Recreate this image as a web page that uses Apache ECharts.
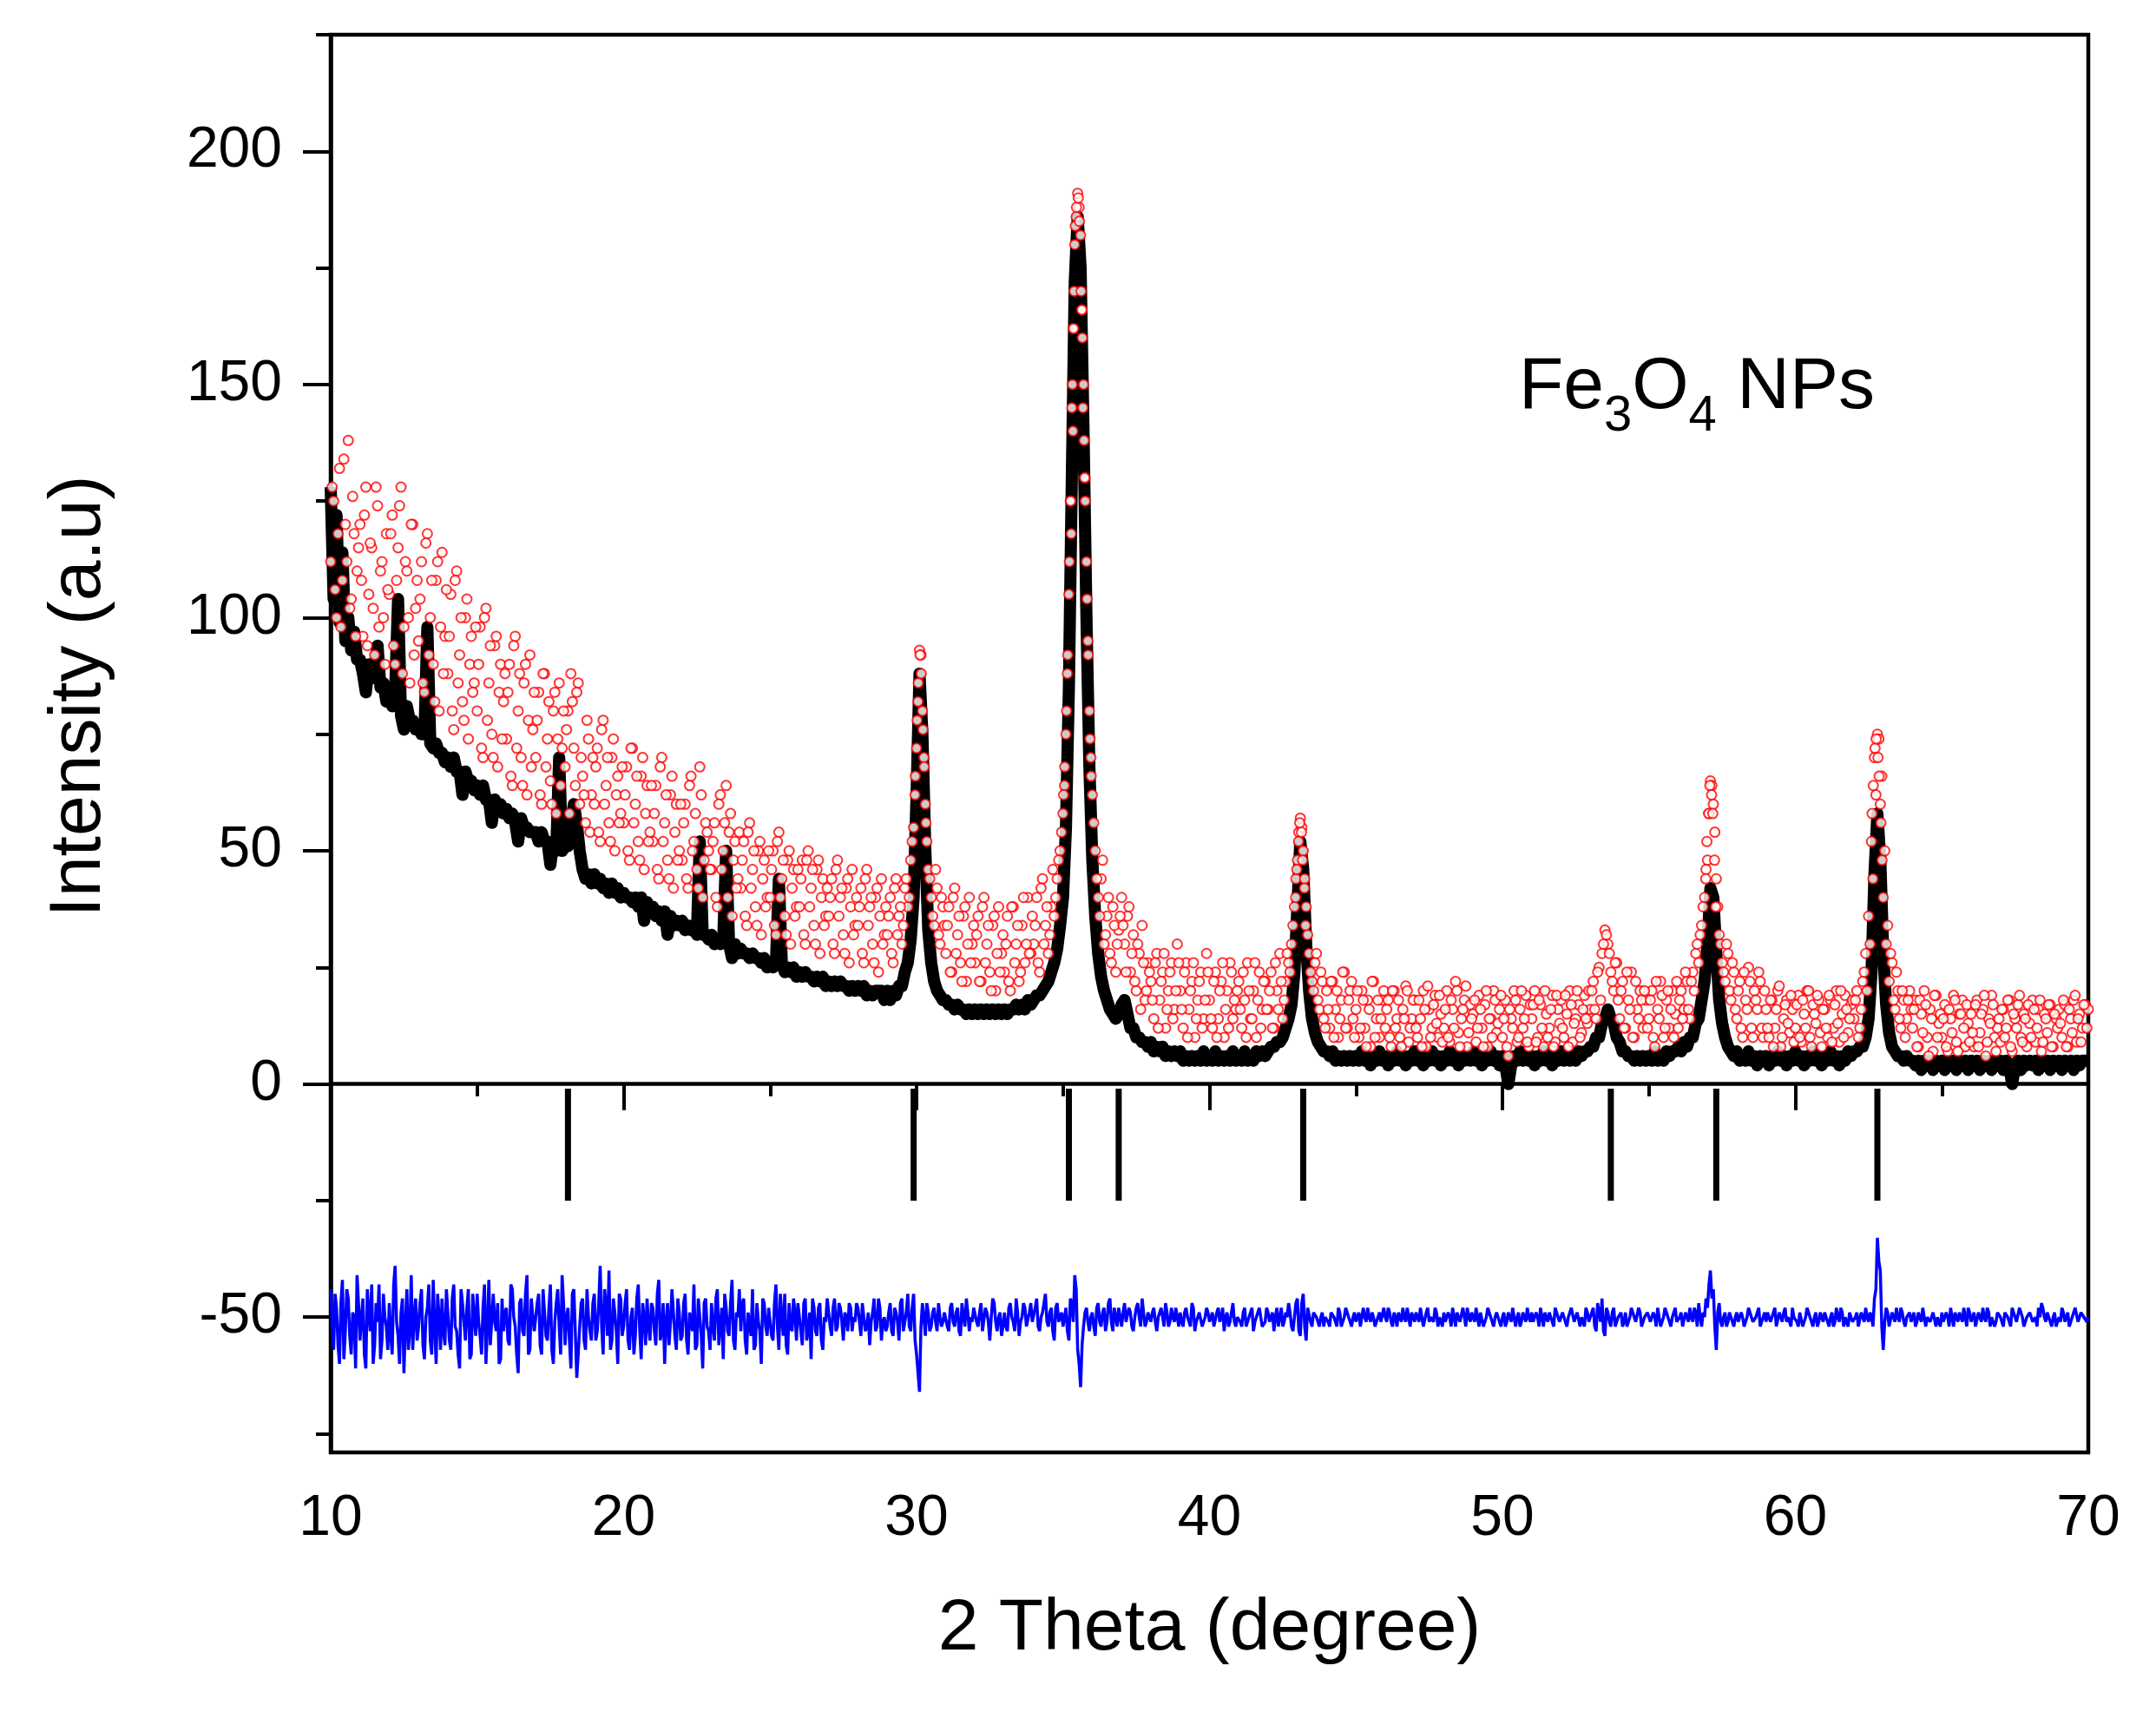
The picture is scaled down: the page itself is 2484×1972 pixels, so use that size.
<!DOCTYPE html>
<html>
<head>
<meta charset="utf-8">
<script src="https://cdn.jsdelivr.net/npm/echarts@6/dist/echarts.min.js"></script>
<style>
  html, body { margin: 0; padding: 0; background: #fff; }
  #chart { width: 2484px; height: 1972px; }
</style>
</head>
<body>
<div id="chart"></div>
<script>
// sampling grid of the pattern (2 theta, degree)
var xStart = 10;
var xStep = 0.1;

// black profile, one row per degree (x.0 ... x.9)
var calc = [
  128,104,122,99,114,95,100,93,97,91,   // 10
  91,88,84,90,87,88,94,85,86,82,        // 11
  83,81,84,104,79,76,81,78,78,76,       // 12
  77,75,75,98,73,72,73,71,71,69,        // 13
  70,68,70,67,67,62,67,65,65,63,        // 14
  64,62,64,61,61,56,61,59,60,58,        // 15
  59,57,58,56,52,57,55,55,54,54,        // 16
  54,52,54,52,52,47,52,50,70,50,        // 17
  51,51,55,60,56,50,46,44,45,43,        // 18
  45,43,44,42,43,41,43,41,42,40,        // 19
  41,40,40,39,40,38,40,35,39,37,        // 20
  38,36,37,35,37,32,36,34,35,34,        // 21
  35,33,34,33,34,32,52,32,32,31,        // 22
  32,30,31,30,31,50,30,27,30,28,        // 23
  29,28,28,27,28,27,27,26,27,25,        // 24
  26,25,26,44,26,24,25,24,25,23,        // 25
  24,23,24,23,23,22,23,22,23,21,        // 26
  22,21,22,21,22,21,21,20,21,20,        // 27
  21,20,21,19,20,19,20,20,20,18,        // 28
  20,18,20,19,21,21,24,26,31,40,        // 29
  62,88,75,50,33,26,22,20,19,18,        // 30
  18,17,17,16,17,16,16,15,16,15,        // 31
  16,15,16,15,16,15,16,15,16,15,        // 32
  16,15,16,16,17,16,17,16,18,17,        // 33
  18,19,19,20,21,22,24,26,29,34,        // 34
  40,55,85,130,172,186,175,140,100,68,  // 35
  48,36,28,23,20,18,16,15,14,15,        // 36
  17,18,15,12,12,10,10,9,9,8,           // 37
  9,7,8,7,8,6,7,6,7,6,                  // 38
  7,5,6,5,6,5,6,5,7,5,                  // 39
  6,5,7,5,6,5,6,5,7,5,                  // 40
  6,5,7,5,6,5,7,6,7,6,                  // 41
  7,8,8,9,9,10,12,14,17,24,             // 42
  38,52,46,30,20,14,11,9,8,7,           // 43
  7,6,7,5,6,5,6,5,6,5,                  // 44
  6,5,7,5,6,4,6,5,7,5,                  // 45
  6,4,6,5,7,5,6,4,6,5,                  // 46
  7,5,6,4,6,5,7,5,6,4,                  // 47
  6,5,7,5,6,4,6,5,6,5,                  // 48
  7,5,6,4,6,5,7,5,6,4,                  // 49
  6,4,0,4,6,5,7,5,6,5,                  // 50
  6,4,6,5,7,5,6,4,6,5,                  // 51
  7,5,6,5,6,5,7,6,7,7,                  // 52
  8,8,10,10,13,14,16,14,13,10,          // 53
  9,7,7,6,6,5,6,5,6,5,                  // 54
  6,5,7,5,6,5,7,6,7,7,                  // 55
  8,7,9,8,10,10,13,14,18,22,            // 56
  30,42,40,28,18,13,10,8,7,6,           // 57
  7,5,6,5,7,5,6,4,6,5,                  // 58
  6,4,6,5,7,5,6,4,6,5,                  // 59
  7,5,6,4,6,5,7,5,6,4,                  // 60
  6,5,7,5,6,4,6,5,7,6,                  // 61
  7,7,8,8,10,14,24,45,58,48,            // 62
  28,17,11,8,7,6,6,5,6,5,               // 63
  5,4,5,3,5,4,5,3,5,4,                  // 64
  5,3,5,4,5,3,5,4,5,3,                  // 65
  5,4,5,3,5,4,5,3,5,4,                  // 66
  5,3,5,4,0,4,5,3,5,4,                  // 67
  5,4,5,3,5,4,5,3,5,4,                  // 68
  5,3,5,4,5,3,5,4,5,5,                  // 69
  5                                     // 70
];

// red open circles at x.0 ... x.9
var obs = [
  112,125,100,132,108,120,138,104,118,110,  // 10
  120,96,128,105,115,92,124,110,100,118,    // 11
  105,122,90,115,128,98,110,86,120,102,     // 12
  95,112,84,118,100,90,108,80,114,96,       // 13
  88,105,76,110,92,82,100,74,96,86,         // 14
  80,98,70,102,86,75,94,68,90,82,           // 15
  74,90,64,96,80,70,86,62,92,76,            // 16
  70,84,60,88,74,65,80,58,86,72,            // 17
  68,80,88,72,84,60,66,56,74,62,            // 18
  60,72,52,78,64,56,70,50,66,58,            // 19
  56,68,48,72,60,52,66,46,64,54,            // 20
  52,64,44,70,56,48,62,42,60,50,            // 21
  48,60,42,66,52,46,68,40,56,50,            // 22
  46,56,38,62,50,64,54,36,52,44,            // 23
  42,52,34,56,46,38,50,32,48,40,            // 24
  40,50,32,54,44,36,48,30,46,38,            // 25
  38,48,30,50,42,34,46,28,44,36,            // 26
  36,44,28,48,40,32,42,26,46,34,            // 27
  34,42,26,46,38,30,40,24,44,32,            // 28
  32,40,26,44,36,30,42,38,48,55,            // 29
  72,93,80,60,46,40,34,42,30,38,            // 30
  28,38,24,42,32,26,36,22,40,30,            // 31
  26,36,22,40,30,24,34,20,38,28,            // 32
  24,36,20,38,30,22,34,26,40,28,            // 33
  30,40,24,44,34,28,38,36,44,50,            // 34
  58,75,105,145,180,191,182,150,112,80,     // 35
  62,50,40,44,30,36,28,38,24,33,            // 36
  40,30,36,24,32,20,28,34,18,26,            // 37
  22,14,28,18,24,12,20,26,16,30,            // 38
  20,12,26,16,22,10,18,24,14,28,            // 39
  18,12,24,14,22,10,20,26,14,16,            // 40
  22,12,18,26,14,20,10,24,16,22,            // 41
  16,24,12,20,28,14,22,26,30,38,            // 42
  48,57,50,38,28,22,26,18,24,14,            // 43
  20,12,22,16,10,18,24,12,20,14,            // 44
  16,10,20,12,18,8,22,14,10,18,             // 45
  12,18,8,20,14,10,16,21,9,14,              // 46
  18,10,14,20,8,16,12,19,10,15,             // 47
  12,20,9,16,22,11,14,18,8,17,              // 48
  15,9,19,12,17,8,14,20,11,16,              // 49
  10,18,6,14,20,9,16,12,19,8,               // 50
  14,20,10,17,8,15,12,19,9,16,              // 51
  18,10,15,20,9,14,17,11,19,13,             // 52
  16,22,14,25,28,33,30,24,20,26,            // 53
  14,22,12,18,24,10,16,20,12,18,            // 54
  14,20,8,16,22,10,18,12,20,15,             // 55
  12,20,16,22,14,24,28,26,34,40,            // 56
  48,65,60,44,32,26,22,28,18,24,            // 57
  14,22,10,18,25,12,20,16,22,10,            // 58
  16,10,18,12,20,8,14,18,11,16,             // 59
  12,19,9,15,20,10,17,13,18,8,              // 60
  16,10,18,12,20,9,15,19,11,17,             // 61
  14,20,12,22,28,36,52,70,75,60,            // 62
  40,30,22,26,16,20,12,18,14,20,            // 63
  12,18,8,15,20,10,16,7,19,13,              // 64
  10,17,7,14,19,9,15,18,8,13,               // 65
  15,8,18,11,16,6,14,19,10,12,              // 66
  9,16,12,18,7,14,17,10,15,8,               // 67
  13,18,9,16,7,15,11,17,8,14,               // 68
  16,10,17,8,14,18,9,15,12,17,              // 69
  16                                        // 70
];

// red open circles in between, at x.05 ... x.95
var obsMid = [
  128,106,118,98,134,112,102,126,96,115,    // 10
  108,122,94,116,102,128,98,112,90,106,     // 11
  118,94,108,124,88,112,100,120,92,108,     // 12
  104,86,116,92,108,82,112,98,88,106,       // 13
  96,80,108,86,100,78,104,90,84,98,         // 14
  90,72,100,78,94,70,96,84,74,88,           // 15
  84,66,94,72,88,64,90,78,68,84,            // 16
  78,62,88,68,82,60,84,74,64,80,            // 17
  76,58,82,64,86,70,62,78,54,70,            // 18
  68,54,76,60,70,52,74,62,56,68,            // 19
  62,50,72,56,66,48,70,58,52,64,            // 20
  58,46,68,52,62,44,66,54,48,60,            // 21
  56,44,64,50,58,42,62,48,54,46,            // 22
  52,40,60,46,56,40,58,48,42,54,            // 23
  48,36,54,42,50,34,52,44,38,50,            // 24
  46,34,52,40,48,32,50,42,36,46,            // 25
  44,32,48,38,46,30,48,40,34,42,            // 26
  40,30,46,36,42,28,44,38,32,40,            // 27
  38,28,44,34,40,26,42,36,30,38,            // 28
  36,28,42,32,38,34,44,40,52,62,            // 29
  82,92,70,52,44,36,46,32,40,34,            // 30
  34,24,40,28,36,22,38,30,26,34,            // 31
  32,22,38,26,34,20,36,28,24,32,            // 32
  30,22,38,26,34,24,40,30,28,36,            // 33
  34,26,42,30,38,32,46,40,48,54,            // 34
  64,88,125,162,186,188,166,130,95,70,      // 35
  56,44,36,48,32,40,26,34,30,36,            // 36
  34,24,38,28,22,30,16,26,20,24,            // 37
  18,26,12,22,28,16,24,14,20,26,            // 38
  16,24,10,20,26,14,22,12,18,24,            // 39
  14,22,10,20,26,16,12,24,18,20,            // 40
  16,24,10,20,14,26,18,12,22,16,            // 41
  20,12,26,16,22,18,28,24,34,44,            // 42
  54,55,44,32,24,20,28,16,22,12,            // 43
  16,22,10,20,14,24,12,18,22,10,            // 44
  20,12,18,8,16,22,10,18,14,20,             // 45
  16,10,20,12,18,8,14,20,12,18,             // 46
  12,18,8,16,21,10,17,13,19,9,              // 47
  16,10,18,12,20,8,16,21,11,14,             // 48
  18,12,16,8,20,14,10,18,13,19,             // 49
  14,8,16,12,18,10,20,14,9,17,              // 50
  17,9,18,12,20,10,16,8,19,13,              // 51
  12,19,8,17,13,20,10,16,14,20,             // 52
  20,16,24,18,30,32,28,22,26,18,            // 53
  20,12,24,16,10,22,14,18,20,12,            // 54
  18,10,22,14,19,12,20,16,10,22,            // 55
  18,14,24,16,22,20,30,32,38,46,            // 56
  58,64,54,38,30,24,30,20,26,16,            // 57
  20,12,24,16,22,10,18,24,12,20,            // 58
  12,18,8,16,21,10,17,13,19,9,              // 59
  17,10,18,12,20,8,15,19,11,16,             // 60
  12,19,9,17,13,20,10,16,14,18,             // 61
  18,10,16,24,20,30,44,62,74,66,            // 62
  50,34,28,18,24,14,20,10,18,16,            // 63
  16,8,18,11,17,6,14,19,10,15,              // 64
  14,8,16,11,18,7,15,12,17,9,               // 65
  11,17,8,15,19,9,13,17,7,14,               // 66
  16,10,18,8,15,12,19,9,14,17,              // 67
  10,16,12,18,9,14,17,8,15,12,              // 68
  13,18,8,16,11,19,14,9,17,12               // 69
];

// extra red circles on the peak flanks [2theta, intensity]
var obsPeaks = [
  [29.96,66],[30.02,78],[30.06,86],[30.12,92],[30.16,88],[30.22,76],[30.26,68],[30.32,56],
  [35.02,62],[35.06,68],[35.12,80],[35.16,92],[35.22,112],[35.26,125],[35.28,118],[35.32,150],
  [35.34,140],[35.36,162],[35.38,170],[35.42,184],[35.46,188],[35.52,190],[35.56,185],[35.62,170],
  [35.64,166],[35.66,160],[35.68,145],[35.72,138],[35.74,130],[35.76,125],[35.82,104],[35.86,92],
  [35.92,74],[35.96,66],
  [42.94,40],[42.98,46],[43.04,52],[43.08,56],[43.14,54],[43.18,48],[43.24,42],[43.28,34],
  [56.94,44],[56.98,52],[57.04,58],[57.08,64],[57.14,62],[57.18,58],[57.24,48],[57.28,38],
  [62.62,58],[62.66,64],[62.72,72],[62.76,74],[62.82,70],[62.86,66],[62.92,56],[62.96,48]
];

// blue difference curve (offset to -50) at x.0 ... x.9
var diff = [
  -44,-57,-48,-60,-42,-53,-46,-58,-50,-41,  // 10
  -55,-46,-61,-49,-43,-56,-51,-59,-45,-52,  // 11
  -47,-58,-39,-54,-49,-62,-44,-53,-57,-46,  // 12
  -52,-44,-59,-48,-55,-42,-60,-50,-46,-56,  // 13
  -49,-57,-43,-53,-61,-47,-55,-44,-58,-50,  // 14
  -45,-54,-48,-60,-42,-56,-51,-47,-59,-53,  // 15
  -48,-56,-44,-52,-62,-46,-54,-41,-57,-50,  // 16
  -53,-45,-58,-49,-55,-43,-60,-47,-52,-41,  // 17
  -56,-48,-61,-44,-63,-52,-46,-57,-50,-55,  // 18
  -45,-53,-39,-58,-47,-40,-55,-49,-60,-46,  // 19
  -52,-44,-57,-48,-54,-43,-59,-50,-46,-55,  // 20
  -48,-56,-42,-53,-60,-47,-51,-44,-57,-49,  // 21
  -54,-45,-58,-49,-43,-56,-50,-61,-46,-53,  // 22
  -47,-55,-44,-52,-59,-48,-54,-42,-57,-50,  // 23
  -53,-46,-58,-49,-44,-56,-51,-60,-47,-54,  // 24
  -48,-55,-43,-57,-50,-45,-58,-52,-46,-55,  // 25
  -50,-56,-46,-53,-59,-48,-54,-47,-57,-51,  // 26
  -49,-54,-46,-52,-48,-55,-50,-47,-53,-51,  // 27
  -48,-54,-47,-52,-56,-49,-53,-46,-55,-50,  // 28
  -52,-47,-54,-49,-55,-46,-51,-45,-53,-45,  // 29
  -58,-66,-47,-54,-49,-52,-48,-53,-50,-51,  // 30
  -49,-53,-47,-52,-48,-54,-50,-46,-53,-51,  // 31
  -48,-52,-47,-53,-49,-55,-46,-51,-50,-54,  // 32
  -49,-53,-47,-51,-46,-54,-50,-48,-52,-47,  // 33
  -51,-46,-53,-49,-45,-52,-48,-55,-47,-50,  // 34
  -52,-48,-55,-47,-41,-57,-65,-52,-48,-53,  // 35
  -49,-54,-47,-52,-48,-51,-46,-53,-50,-48,  // 36
  -52,-47,-51,-49,-53,-48,-50,-46,-52,-49,  // 37
  -51,-48,-53,-49,-50,-47,-52,-48,-51,-50,  // 38
  -49,-52,-48,-51,-47,-53,-50,-49,-52,-48,  // 39
  -51,-49,-52,-48,-50,-53,-49,-51,-47,-52,  // 40
  -50,-52,-48,-51,-49,-53,-50,-48,-52,-51,  // 41
  -49,-51,-53,-48,-50,-52,-49,-47,-52,-50,  // 42
  -46,-54,-45,-55,-48,-52,-49,-51,-50,-52,  // 43
  -50,-52,-49,-51,-48,-52,-50,-49,-51,-50,  // 44
  -51,-49,-52,-50,-48,-51,-50,-52,-49,-51,  // 45
  -50,-48,-51,-49,-52,-50,-48,-51,-50,-49,  // 46
  -51,-50,-48,-52,-49,-51,-50,-48,-52,-50,  // 47
  -49,-51,-50,-48,-52,-49,-51,-50,-48,-51,  // 48
  -50,-48,-52,-49,-51,-48,-50,-52,-49,-51,  // 49
  -50,-52,-49,-51,-48,-50,-52,-49,-51,-50,  // 50
  -49,-51,-50,-48,-52,-50,-49,-51,-48,-50,  // 51
  -51,-49,-52,-50,-48,-51,-49,-50,-52,-49,  // 52
  -51,-48,-53,-47,-46,-54,-49,-52,-48,-51,  // 53
  -50,-52,-49,-51,-48,-50,-51,-49,-52,-50,  // 54
  -49,-51,-50,-48,-52,-50,-49,-51,-50,-48,  // 55
  -51,-49,-52,-50,-48,-51,-49,-47,-52,-50,  // 56
  -48,-40,-44,-57,-47,-52,-49,-51,-50,-52,  // 57
  -49,-51,-50,-52,-48,-50,-51,-49,-52,-50,  // 58
  -51,-49,-50,-48,-52,-50,-49,-51,-50,-48,  // 59
  -50,-52,-49,-51,-48,-50,-52,-49,-51,-50,  // 60
  -49,-51,-50,-52,-48,-51,-49,-50,-52,-49,  // 61
  -51,-49,-52,-50,-48,-51,-50,-46,-33,-40,  // 62
  -57,-48,-52,-49,-51,-50,-48,-51,-50,-49,  // 63
  -50,-52,-49,-51,-48,-50,-51,-49,-52,-50,  // 64
  -49,-51,-50,-48,-52,-50,-49,-51,-50,-48,  // 65
  -51,-49,-52,-50,-48,-51,-49,-50,-52,-49,  // 66
  -50,-52,-49,-51,-48,-50,-51,-49,-52,-50,  // 67
  -49,-51,-50,-48,-47,-50,-49,-51,-50,-52,  // 68
  -50,-48,-51,-49,-52,-50,-48,-51,-49,-50,  // 69
  -50                                       // 70
];

// blue difference curve in between, at x.05 ... x.95
var diffMid = [
  -52,-45,-56,-47,-59,-44,-54,-49,-61,-47,  // 10
  -50,-58,-44,-53,-60,-47,-43,-55,-50,-57,  // 11
  -54,-43,-51,-60,-46,-52,-57,-41,-50,-55,  // 12
  -47,-56,-50,-43,-58,-52,-45,-57,-53,-44,  // 13
  -55,-46,-52,-58,-44,-51,-48,-59,-45,-54,  // 14
  -51,-58,-43,-52,-56,-45,-53,-60,-46,-49,  // 15
  -55,-43,-50,-58,-47,-53,-45,-58,-46,-53,  // 16
  -47,-56,-44,-54,-48,-57,-51,-44,-58,-47,  // 17
  -50,-55,-45,-53,-58,-47,-55,-44,-53,-47,  // 18
  -55,-47,-52,-44,-54,-57,-46,-53,-45,-54,  // 19
  -47,-55,-50,-58,-46,-53,-47,-56,-52,-47,  // 20
  -53,-45,-55,-47,-51,-56,-44,-54,-46,-55,  // 21
  -47,-55,-49,-53,-57,-46,-54,-47,-52,-57,  // 22
  -52,-46,-56,-48,-45,-53,-47,-55,-49,-44,  // 23
  -47,-55,-49,-54,-57,-47,-53,-46,-52,-48,  // 24
  -54,-47,-52,-45,-54,-56,-47,-53,-49,-47,  // 25
  -53,-47,-55,-49,-46,-53,-48,-55,-50,-46,  // 26
  -52,-48,-53,-47,-51,-49,-53,-48,-50,-47,  // 27
  -51,-47,-53,-49,-51,-46,-52,-48,-51,-53,  // 28
  -49,-53,-48,-51,-47,-53,-49,-52,-48,-55,  // 29
  -62,-52,-50,-47,-53,-49,-51,-47,-52,-49,  // 30
  -52,-48,-51,-49,-53,-47,-52,-49,-50,-48,  // 31
  -51,-49,-53,-48,-51,-50,-47,-53,-49,-52,  // 32
  -52,-48,-50,-53,-49,-51,-47,-52,-49,-51,  // 33
  -48,-52,-50,-47,-51,-49,-53,-48,-51,-49,  // 34
  -50,-53,-46,-51,-44,-60,-56,-49,-51,-50,  // 35
  -52,-48,-51,-49,-53,-47,-51,-48,-52,-50,  // 36
  -49,-51,-48,-52,-50,-47,-52,-49,-51,-50,  // 37
  -49,-51,-50,-48,-52,-49,-51,-50,-48,-52,  // 38
  -51,-49,-50,-52,-48,-51,-49,-52,-50,-49,  // 39
  -50,-52,-49,-51,-48,-50,-52,-49,-51,-50,  // 40
  -51,-49,-52,-50,-48,-51,-49,-50,-52,-48,  // 41
  -51,-49,-50,-52,-48,-51,-50,-49,-53,-47,  // 42
  -53,-47,-52,-48,-51,-49,-50,-52,-49,-50,  // 43
  -51,-49,-50,-52,-49,-51,-48,-50,-52,-49,  // 44
  -50,-52,-48,-51,-50,-49,-52,-50,-51,-48,  // 45
  -51,-49,-52,-50,-49,-51,-50,-48,-52,-50,  // 46
  -49,-51,-50,-52,-48,-50,-51,-49,-50,-52,  // 47
  -51,-49,-52,-50,-49,-51,-48,-52,-50,-49,  // 48
  -51,-50,-49,-52,-50,-48,-51,-50,-49,-52,  // 49
  -49,-51,-50,-48,-52,-49,-51,-50,-48,-51,  // 50
  -51,-49,-52,-50,-49,-51,-50,-52,-49,-51,  // 51
  -49,-51,-50,-48,-51,-49,-52,-50,-48,-51,  // 52
  -49,-52,-47,-51,-53,-48,-51,-49,-52,-50,  // 53
  -49,-51,-52,-50,-49,-51,-48,-52,-50,-49,  // 54
  -51,-49,-52,-50,-51,-48,-50,-52,-49,-51,  // 55
  -50,-52,-49,-51,-50,-48,-52,-50,-49,-46,  // 56
  -43,-46,-52,-49,-51,-50,-52,-49,-51,-50,  // 57
  -51,-49,-52,-50,-49,-51,-50,-48,-51,-49,  // 58
  -49,-51,-50,-52,-49,-51,-48,-50,-52,-50,  // 59
  -51,-49,-52,-50,-49,-51,-50,-52,-49,-51,  // 60
  -50,-52,-49,-51,-50,-48,-52,-50,-49,-51,  // 61
  -50,-52,-49,-51,-50,-49,-52,-44,-38,-52,  // 62
  -51,-49,-52,-50,-48,-51,-49,-52,-50,-51,  // 63
  -49,-51,-50,-48,-52,-50,-51,-49,-50,-52,  // 64
  -51,-49,-52,-50,-49,-51,-50,-48,-52,-49,  // 65
  -50,-52,-49,-51,-50,-48,-52,-50,-51,-49,  // 66
  -51,-49,-50,-52,-49,-51,-48,-50,-52,-50,  // 67
  -49,-51,-52,-50,-48,-51,-50,-52,-49,-51,  // 68
  -51,-49,-50,-52,-50,-48,-51,-49,-50,-51   // 69
];

// Bragg reflection positions and the extent of their markers
var braggPos = [18.1, 29.9, 35.2, 36.9, 43.2, 53.7, 57.3, 62.8];
var braggTop = -1;
var braggBottom = -25;

// tick values
var xTicks = { min: 10, max: 70, step: 10 };
var yMajor = [-50, 0, 50, 100, 150, 200];
var yMinor = [-75, -25, 25, 75, 125, 175, 225];
var yRange = [-79, 225];

function toPairs(arr, offset) {
  return arr.map(function (v, i) {
    return [+(xStart + offset + i * xStep).toFixed(3), v];
  });
}

// merge the main grid and the in-between grid into one ordered curve
function interleave(main, mid) {
  var a = toPairs(main, 0), b = toPairs(mid, xStep / 2), out = [];
  for (var i = 0; i < a.length; i++) {
    out.push(a[i]);
    if (b[i]) out.push(b[i]);
  }
  return out;
}

var FONT = '"Liberation Sans", Arial, sans-serif';

var chart = echarts.init(document.getElementById('chart'));

var circleStyle = { color: '#ff0000', borderWidth: 1.8 };

var option = {
  backgroundColor: '#fff',
  animation: false,
  grid: {
    left: 381, right: 78, top: 40, bottom: 299,
    show: true, borderColor: '#000', borderWidth: 4.5,
    outerBoundsMode: 'none'
  },
  xAxis: {
    type: 'value',
    min: xTicks.min, max: xTicks.max, interval: xTicks.step,
    name: '2 Theta (degree)',
    nameLocation: 'middle',
    nameGap: 162,
    nameTextStyle: { fontSize: 84, color: '#000', fontFamily: FONT },
    axisLine: { show: true, lineStyle: { color: '#000', width: 4.5 } },
    axisTick: { show: true, inside: false, length: 30, lineStyle: { color: '#000', width: 4 } },
    minorTick: { show: true, splitNumber: 2, length: 14, lineStyle: { color: '#000', width: 4 } },
    axisLabel: { fontSize: 66, color: '#000', margin: 44, fontFamily: FONT, showMaxLabel: true, showMinLabel: true },
    splitLine: { show: false },
    minorSplitLine: { show: false }
  },
  yAxis: [
    {
      type: 'value', position: 'left',
      min: yRange[0], max: yRange[1],
      axisLine: { show: true, lineStyle: { color: '#000', width: 4.5 } },
      axisTick: { show: true, inside: false, length: 32, customValues: yMajor, lineStyle: { color: '#000', width: 4 } },
      axisLabel: { fontSize: 66, color: '#000', margin: 56, fontFamily: FONT, customValues: yMajor },
      splitLine: { show: false }
    },
    {
      type: 'value', position: 'left', offset: 0,
      min: yRange[0], max: yRange[1],
      axisLine: { show: false },
      axisTick: { show: true, inside: false, length: 17, customValues: yMinor, lineStyle: { color: '#000', width: 4 } },
      axisLabel: { show: false },
      splitLine: { show: false }
    }
  ],
  graphic: [
    {
      type: 'text', x: 92, y: 802, rotation: Math.PI / 2,
      style: {
        text: 'Intensity (a.u)', fontSize: 84, fontFamily: FONT, fill: '#000',
        align: 'center', verticalAlign: 'middle'
      }
    },
    {
      type: 'text', x: 1750, y: 385,
      style: {
        text: '{m|Fe}{s|3}{m|O}{s|4}{m| NPs}',
        align: 'left', verticalAlign: 'top',
        rich: {
          m: { fontSize: 84, lineHeight: 124, fontFamily: FONT, color: '#000', verticalAlign: 'middle' },
          s: { fontSize: 58, lineHeight: 58, fontFamily: FONT, color: '#000', verticalAlign: 'bottom' }
        }
      }
    }
  ],
  series: [
    {
      name: 'calc',
      type: 'line',
      data: toPairs(calc, 0),
      showSymbol: false,
      symbol: 'none',
      lineStyle: { color: '#000', width: 14, join: 'round' },
      z: 2
    },
    {
      name: 'obs',
      type: 'scatter',
      data: toPairs(obs, 0).concat(toPairs(obsMid, xStep / 2), obsPeaks),
      symbol: 'emptyCircle',
      symbolSize: 11,
      itemStyle: circleStyle,
      large: false,
      z: 3
    },
    {
      name: 'diff',
      type: 'line',
      data: interleave(diff, diffMid),
      showSymbol: false,
      symbol: 'none',
      lineStyle: { color: '#0000ff', width: 3.5 },
      z: 2
    },
    {
      name: 'bragg',
      type: 'custom',
      data: braggPos.map(function (x) { return [x, braggTop, braggBottom]; }),
      renderItem: function (params, api) {
        var p1 = api.coord([api.value(0), api.value(1)]);
        var p2 = api.coord([api.value(0), api.value(2)]);
        return {
          type: 'line',
          shape: { x1: p1[0], y1: p1[1], x2: p2[0], y2: p2[1] },
          style: { stroke: '#000', lineWidth: 7 }
        };
      },
      z: 2
    }
  ]
};

chart.setOption(option);
</script>
</body>
</html>
